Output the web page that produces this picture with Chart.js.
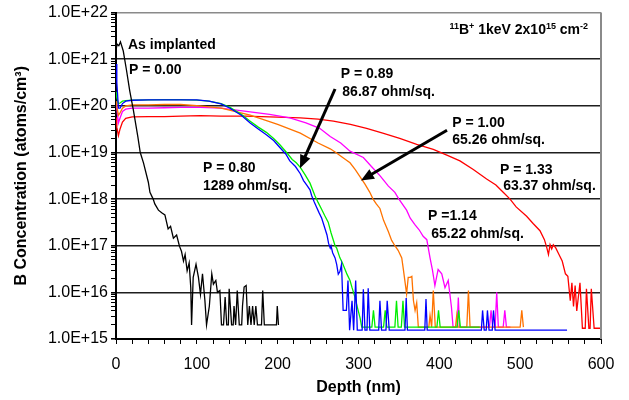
<!DOCTYPE html>
<html>
<head>
<meta charset="utf-8">
<script src="https://cdn.jsdelivr.net/npm/chart.js@4.4.1/dist/chart.umd.min.js"></script>
<style>
  html, body { margin: 0; padding: 0; background: #fff; }
  #wrap { width: 629px; height: 400px; }
</style>
</head>
<body>
<div id="wrap"><canvas id="grafico" width="629" height="400"></canvas></div>
<script>
// [depth (nm), B concentration (atoms/cm3)]
const asImplanted = [
  [0,1.6e21],[1.5,2.1e21],[3.5,1.95e21],[5.5,2.35e21],[9,1.5e21],[13,5.8e20],[17,2.1e20],[21.5,8.1e19],
  [27,2.2e19],[30,1.0e19],[34,6.0e18],[40,2.3e18],[42,1.4e18],[46,1.0e18],[48,7.9e17],[52.5,5.8e17],
  [56.5,5.1e17],[60.5,4.6e17],[64.5,2.3e17],[67.5,2.6e17],[71,1.45e17],[75,1.7e17],[78.5,9.8e16],
  [81,7.6e16],[83.5,4.7e16],[85.5,6.5e16],[88,2.9e16],[90.5,4.3e16],[92.5,1.26e16],[93.5,2.0e15],
  [95.5,2.1e16],[99,4.0e16],[102,2.1e16],[104.5,9.1e15],[107,2.5e16],[110,6.6e15],[112,2.0e15],
  [115.5,5.1e15],[118.5,2.5e16],[120.5,1.5e16],[123.5,1.8e16],[125.5,1.0e16],[128.5,1.1e16],
  [130.5,2.0e15],[133,2.0e15],[135,7.9e15],[137,2.0e15],[139,2.0e15],[140,1.2e16],[143,2.0e15],
  [145,2.0e15],[146,5.1e15],[148,2.0e15],[150,1.1e16],[152.5,2.0e15],[155.5,2.0e15],[156.5,5.1e15],
  [158.5,1.3e16],[161,1.4e16],[163,2.0e15],[165,5.1e15],[167,2.0e15],[169,5.1e15],[171,2.0e15],
  [173,5.1e15],[175,2.0e15],[180,2.0e15],[181.5,1.1e16],[183.5,2.0e15],[198.5,2.0e15],[199.5,5.1e15],
  [201,2.0e15]
];
const p080 = [
  [0,7.9e20],[1,3.2e20],[3,8.9e19],[5,8.9e19],[8,1.12e20],[12,1.26e20],[20,1.32e20],[40,1.35e20],
  [60,1.35e20],[80,1.35e20],[100,1.35e20],[115,1.26e20],[130,1.1e20],[141,8.9e19],[155,6.3e19],
  [166,4.3e19],[176,3.2e19],[186,2.4e19],[195,1.8e19],[203,1.26e19],[210,9.3e18],[215,6.6e18],
  [222,5.0e18],[228,3.5e18],[232,2.5e18],[236,2.0e18],[240,1.58e18],[242,1.2e18],[245,8.9e17],
  [248,6.8e17],[251,5.2e17],[254.5,3.9e17],[258,2.5e17],[261,1.7e17],[263,1.12e17],[265,8.9e16],
  [266,1.0e17],[268,7.1e16],[271,5.5e16],[273,4.0e16],[275,2.45e16],[277,2.8e16],[279,4.0e16],
  [281,4.1e15],[285,4.1e15],[287,1.8e16],[289,1.55e15],[292,6.6e15],[294,1.55e15],[296.5,1.8e16],
  [298.5,1.55e15],[304.5,1.55e15],[306,1.17e16],[308,1.55e15],[310.5,1.55e15],[312,1.23e16],
  [314,1.55e15],[325,1.55e15],[326.5,6.6e15],[328.5,1.55e15],[334,1.55e15],[335.5,6.6e15],
  [338,1.55e15],[357.5,1.55e15],[359,7.6e15],[360.5,1.55e15],[382,1.55e15],[383.5,7.2e15],
  [385,1.55e15],[452,1.55e15],[453.5,4.1e15],[455.5,1.55e15],[458,1.55e15],[459.5,4.1e15],
  [461.5,1.55e15],[465.5,1.55e15],[467,4.1e15],[469,1.55e15],[558,1.55e15]
];
const p089 = [
  [0,2.0e20],[1,1.5e20],[3,1.12e20],[5,1.15e20],[8,1.26e20],[12,1.3e20],[20,1.33e20],[40,1.35e20],
  [60,1.36e20],[80,1.36e20],[100,1.33e20],[115,1.26e20],[130,1.12e20],[141,9.3e19],[155,6.6e19],
  [166,4.7e19],[176,3.5e19],[186,2.7e19],[195,2.0e19],[203,1.45e19],[211,1.0e19],[218,7.1e18],
  [223,6.0e18],[228,4.8e18],[234,3.3e18],[240,2.2e18],[246,1.2e18],[250,8.5e17],[254.5,6.0e17],
  [258,4.5e17],[262.5,3.2e17],[266,1.9e17],[269,1.3e17],[271,1.0e17],[273,8.9e16],[277,5.5e16],
  [280,4.3e16],[283,3.2e16],[286,2.4e16],[289.5,1.8e16],[292,1.26e16],[295.5,8.0e15],[299,4.5e15],
  [302,2.8e15],[304,1.8e15],[316.5,1.8e15],[318.5,4.1e15],[320.5,1.8e15],[331,1.8e15],[333,4.1e15],
  [335,1.8e15],[345,1.8e15],[347,6.6e15],[349,1.8e15],[353,1.8e15],[355,6.6e15],[357,1.8e15],
  [397,1.8e15],[399,4.1e15],[401,1.8e15],[422,1.8e15],[424,4.1e15],[426,1.8e15],[450,1.8e15]
];
const p100 = [
  [0,1.26e20],[1,1.0e20],[3,6.3e19],[5,7.1e19],[8,8.9e19],[12,1.0e20],[20,1.05e20],[40,1.05e20],
  [60,1.07e20],[80,1.07e20],[104,1.0e20],[130,8.9e19],[166,6.3e19],[200,4.0e19],[228,2.6e19],
  [250,1.6e19],[265,1.2e19],[272,1.0e19],[280,7.9e18],[289.5,6.0e18],[296,4.3e18],[302,3.0e18],
  [308,2.1e18],[314,1.4e18],[318,1.0e18],[322,7.9e17],[326.5,6.3e17],[331,3.5e17],[337,2.0e17],
  [341,1.3e17],[345,1.0e17],[349,8.0e16],[353.5,5.5e16],[355.5,3.1e16],[359.5,9.3e15],[361.5,2.1e16],
  [364,2.1e16],[366,2.2e16],[368,6.6e15],[370,4.1e15],[372,6.0e15],[374,1.8e15],[387,1.8e15],
  [388.5,3.2e15],[390.5,1.8e15],[392.5,1.1e16],[395,1.8e15],[420,1.8e15],[421.5,3.2e15],[423,1.8e15],
  [434,1.8e15],[436,1.1e16],[438,1.8e15],[500,1.8e15],[502,4.1e15],[504,1.8e15]
];
const p114 = [
  [0,1.1e20],[1,8.9e19],[3,4.3e19],[5,5.5e19],[8,7.6e19],[12,8.5e19],[20,8.9e19],[40,8.9e19],
  [60,9.1e19],[80,9.3e19],[104,9.3e19],[130,8.9e19],[166,7.4e19],[190,6.6e19],[215,5.5e19],
  [235,4.3e19],[252,3.3e19],[265,2.2e19],[278,1.6e19],[289.5,1.07e19],[306,7.8e18],[316,5.0e18],
  [326.5,3.2e18],[337,1.9e18],[345,1.4e18],[350,1.0e18],[359.5,5.8e17],[364,3.9e17],[370,2.8e17],
  [375,2.2e17],[380,1.6e17],[384.5,1.35e17],[388.5,5.5e16],[391.5,3.0e16],[394.5,1.4e16],
  [398.5,3.1e16],[403,2.5e16],[407,1.26e16],[411,1.8e16],[415,4.8e15],[417,1.8e15],[422,1.8e15],
  [423.5,7.8e15],[425,1.8e15],[462,1.8e15],[464,4.1e15],[466,1.8e15],[469,1.8e15],[471,1.0e16],
  [473,1.8e15],[479,1.8e15],[481,4.1e15],[483,1.8e15],[488,1.8e15]
];
const p133 = [
  [0,5.6e19],[1,3.5e19],[3,2.3e19],[5,3.2e19],[8,4.5e19],[12,5.4e19],[20,5.8e19],[40,5.9e19],
  [60,5.9e19],[80,6.0e19],[104,6.2e19],[130,6.0e19],[160,6.0e19],[190,5.8e19],[228,5.5e19],
  [250,5.2e19],[269,4.7e19],[290,4.0e19],[310,3.3e19],[330,2.6e19],[351,2.0e19],[372,1.5e19],
  [392.5,1.17e19],[410,8.7e18],[425.5,6.6e18],[442,4.3e18],[458.5,2.7e18],[470,2.0e18],[479,1.4e18],
  [487.5,1.0e18],[495,6.8e17],[508,4.3e17],[516,3.0e17],[524.5,2.1e17],[530,1.35e17],[533,9.0e16],
  [535,6.5e16],[537,1.05e17],[539,8.5e16],[541,1.05e17],[544,9.0e16],[548,6.5e16],[552,4.7e16],
  [556,2.5e16],[559,2.2e16],[562,6.6e15],[564,1.6e16],[566,5.0e15],[568,1.4e16],[570,4.0e15],
  [574,1.6e16],[577,1.7e15],[580.5,1.7e15],[582,1.2e16],[585,1.7e15],[586.5,1.7e15],[588,1.2e16],
  [591.5,1.7e15],[601,1.7e15]
];

const seriesColors = ['#000000', '#0000ff', '#00ee00', '#ff7300', '#ff00ff', '#ff0000'];
const yDecades = [1e15, 1e16, 1e17, 1e18, 1e19, 1e20, 1e21, 1e22];

// text notes: [text, depth, concentration] (left edge, vertical middle)
const notes = [
  ['As implanted', 14.8, 2.0e21],
  ['P = 0.00', 16, 5.9e20],
  ['P = 0.89', 278, 4.9e20],
  ['86.87 ohm/sq.', 280, 1.95e20],
  ['P = 1.00', 416, 4.3e19],
  ['65.26 ohm/sq.', 416, 1.8e19],
  ['P = 1.33', 475, 4.2e18],
  ['63.37 ohm/sq.', 479, 1.9e18],
  ['P =1.14', 386, 4.4e17],
  ['65.22 ohm/sq.', 390, 1.74e17],
  ['P = 0.80', 107.6, 4.6e18],
  ['1289 ohm/sq.', 107.6, 1.9e18]
];
// arrows: [fromDepth, fromConc, toDepth, toConc]
const arrows = [
  [271, 2.3e20, 227.6, 4.6e18],
  [409.5, 3.0e19, 303, 2.5e18]
];

const FONT = '"Liberation Sans", Arial, sans-serif';

const yMinor = [];
for (let e = 15; e < 22; e++) {
  for (let k = 1; k <= 9; k++) yMinor.push(k * Math.pow(10, e));
}
yMinor.push(1e22);

const toPts = arr => arr.map(p => ({ x: p[0], y: p[1] }));

const notesPlugin = {
  id: 'notes',
  afterDatasetsDraw(chart) {
    const ctx = chart.ctx;
    const xs = chart.scales.x, ys = chart.scales.y;
    ctx.save();
    ctx.fillStyle = '#000';
    ctx.font = 'bold 14px ' + FONT;
    ctx.textBaseline = 'middle';
    ctx.textAlign = 'left';
    notes.forEach(n => {
      ctx.fillText(n[0], xs.getPixelForValue(n[1]), ys.getPixelForValue(n[2]));
    });

    // arrows
    arrows.forEach(a => {
      const x1 = xs.getPixelForValue(a[0]), y1 = ys.getPixelForValue(a[1]);
      const x2 = xs.getPixelForValue(a[2]), y2 = ys.getPixelForValue(a[3]);
      const ang = Math.atan2(y2 - y1, x2 - x1);
      const head = 13, half = 5.5;
      ctx.strokeStyle = '#000';
      ctx.lineWidth = 3;
      ctx.beginPath();
      ctx.moveTo(x1, y1);
      ctx.lineTo(x2 - head * 0.8 * Math.cos(ang), y2 - head * 0.8 * Math.sin(ang));
      ctx.stroke();
      ctx.beginPath();
      ctx.moveTo(x2, y2);
      ctx.lineTo(x2 - head * Math.cos(ang) + half * Math.sin(ang), y2 - head * Math.sin(ang) - half * Math.cos(ang));
      ctx.lineTo(x2 - head * Math.cos(ang) - half * Math.sin(ang), y2 - head * Math.sin(ang) + half * Math.cos(ang));
      ctx.closePath();
      ctx.fill();
    });

    // title with superscripts, right aligned
    const parts = [['11', true], ['B', false], ['+', true], [' 1keV 2x10', false], ['15', true], [' cm', false], ['-2', true]];
    const big = 'bold 14px ' + FONT, small = 'bold 9px ' + FONT;
    let w = 0;
    parts.forEach(p => { ctx.font = p[1] ? small : big; w += ctx.measureText(p[0]).width; });
    let tx = xs.getPixelForValue(584) - w;
    const ty = ys.getPixelForValue(4.5e21);
    ctx.textBaseline = 'alphabetic';
    parts.forEach(p => {
      ctx.font = p[1] ? small : big;
      ctx.fillText(p[0], tx, ty + 5 - (p[1] ? 5 : 0));
      tx += ctx.measureText(p[0]).width;
    });

    // grey frame on the right
    const area = chart.chartArea;
    ctx.strokeStyle = '#8a8a8a';
    ctx.lineWidth = 2;
    ctx.beginPath();
    ctx.moveTo(area.right, area.top);
    ctx.lineTo(area.right, area.bottom);
    ctx.stroke();
    ctx.restore();
  }
};

const ctx = document.getElementById('grafico').getContext('2d');
new Chart(ctx, {
  type: 'line',
  data: {
    datasets: [asImplanted, p080, p089, p100, p114, p133].map((s, i) => ({
      data: toPts(s),
      borderColor: seriesColors[i],
      borderWidth: 1.3,
      pointRadius: 0,
      tension: 0,
      fill: false
    }))
  },
  options: {
    responsive: false,
    animation: false,
    devicePixelRatio: 1,
    layout: { padding: { left: 0, right: 28, top: 0, bottom: 0 } },
    plugins: { legend: { display: false }, tooltip: { enabled: false } },
    scales: {
      x: {
        type: 'linear',
        min: 0,
        max: 600,
        afterFit: s => { s.height = 61; },
        ticks: {
          stepSize: 20,
          autoSkip: false,
          maxRotation: 0,
          padding: 11,
          color: '#000',
          font: { family: FONT, size: 16 },
          callback: v => (v % 100 === 0 ? String(v) : '')
        },
        grid: { drawOnChartArea: false, tickLength: 5, color: '#000', lineWidth: 1 },
        border: { display: true, color: '#000', width: 2 },
        title: {
          display: true,
          text: 'Depth (nm)',
          color: '#000',
          font: { family: FONT, size: 16, weight: 'bold' },
          padding: { top: 0, bottom: 3 }
        }
      },
      y: {
        type: 'logarithmic',
        min: 1e15,
        max: 1e22,
        afterFit: s => { s.width = 116; },
        afterBuildTicks: s => { s.ticks = yMinor.map(v => ({ value: v })); },
        ticks: {
          autoSkip: false,
          padding: 3,
          color: '#000',
          font: { family: FONT, size: 16 },
          callback: v => (yDecades.includes(v) ? '1.0E+' + Math.round(Math.log10(v)) : '')
        },
        grid: {
          tickLength: 5,
          lineWidth: c => (c.tick && yDecades.includes(c.tick.value) ? 1.6 : 1),
          color: c => {
            if (!c.tick || !yDecades.includes(c.tick.value)) return 'rgba(0,0,0,0)';
            return c.tick.value === 1e22 ? '#8a8a8a' : '#1e1e1e';
          },
          tickColor: '#000'
        },
        border: { display: true, color: '#000', width: 2 },
        title: {
          display: true,
          text: 'B Concentration (atoms/cm³)',
          color: '#000',
          font: { family: FONT, size: 16, weight: 'bold' },
          padding: { top: 12, bottom: 0 }
        }
      }
    }
  },
  plugins: [notesPlugin]
});
</script>
</body>
</html>
